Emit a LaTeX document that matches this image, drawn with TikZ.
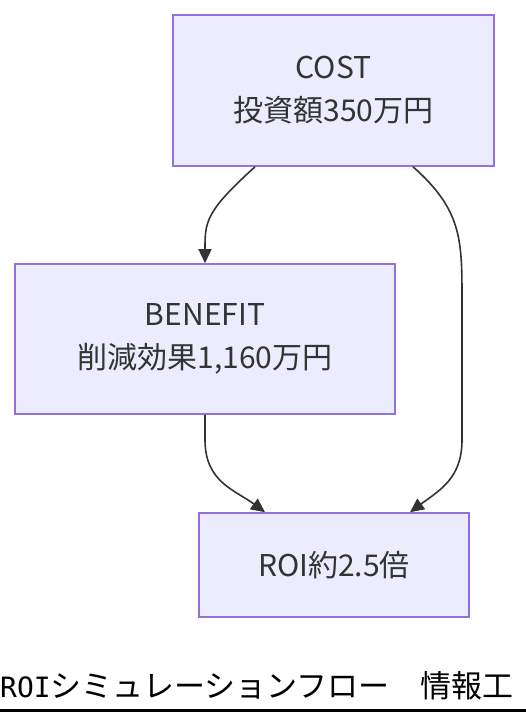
\documentclass[tikz,border=0pt]{standalone}
\usepackage{fontspec}
\setmainfont{Noto Sans CJK JP}
\newfontfamily\titlemono{DejaVu Sans Mono}
\newfontfamily\titlecjk{Noto Sans CJK JP}
\usetikzlibrary{arrows.meta}
\definecolor{boxfill}{HTML}{ECECFF}
\definecolor{boxline}{HTML}{9370DB}
\definecolor{ink}{HTML}{333333}
\tikzset{
  flowbox/.style={draw=boxline, fill=boxfill, line width=1.6pt, text=ink,
    font=\fontsize{30}{43}\selectfont, align=center, inner sep=0pt},
  flowedge/.style={draw=ink, line width=1.6pt, -{Triangle[length=14pt,width=13pt]}}
}
\begin{document}
\begin{tikzpicture}[x=1pt,y=-1pt]
\useasboundingbox (0,0) rectangle (526,716);
\node[flowbox, minimum width=321pt, minimum height=151pt] (cost) at (333.5,90.5) {COST\\投資額350万円};
\node[flowbox, minimum width=380pt, minimum height=150pt] (benefit) at (205,339) {BENEFIT\\削減効果1,160万円};
\node[flowbox, minimum width=270pt, minimum height=104pt] (roi) at (334,565) {ROI約2.5倍};
\coordinate (c1) at ([xshift=-78.5pt]cost.south);
\coordinate (c2) at ([xshift=79.5pt]cost.south);
\coordinate (b1) at (benefit.north);
\coordinate (b2) at (benefit.south);
\coordinate (r1) at ([xshift=-69pt]roi.north);
\coordinate (r2) at ([xshift=76pt]roi.north);
\draw[flowedge] (c1) .. controls (205,212) and (205,222) .. (b1);
\draw[flowedge] (c2) .. controls (462,210) and (462,240) .. (462,300) -- (462,440) .. controls (462,478) and (440,490) .. (r2);
\draw[flowedge] (b2) -- (205,440) .. controls (205,482) and (235,490) .. (r1);
\node[anchor=base west, inner sep=0pt, text=black] (title) at (0,697) {\titlemono\fontsize{28}{30}\selectfont ROI\titlecjk\fontsize{31}{33}\selectfont シミュレーションフロー　情報工};
\draw[black, line width=3pt] (0,710) -- (526,710);
\end{tikzpicture}
\end{document}
